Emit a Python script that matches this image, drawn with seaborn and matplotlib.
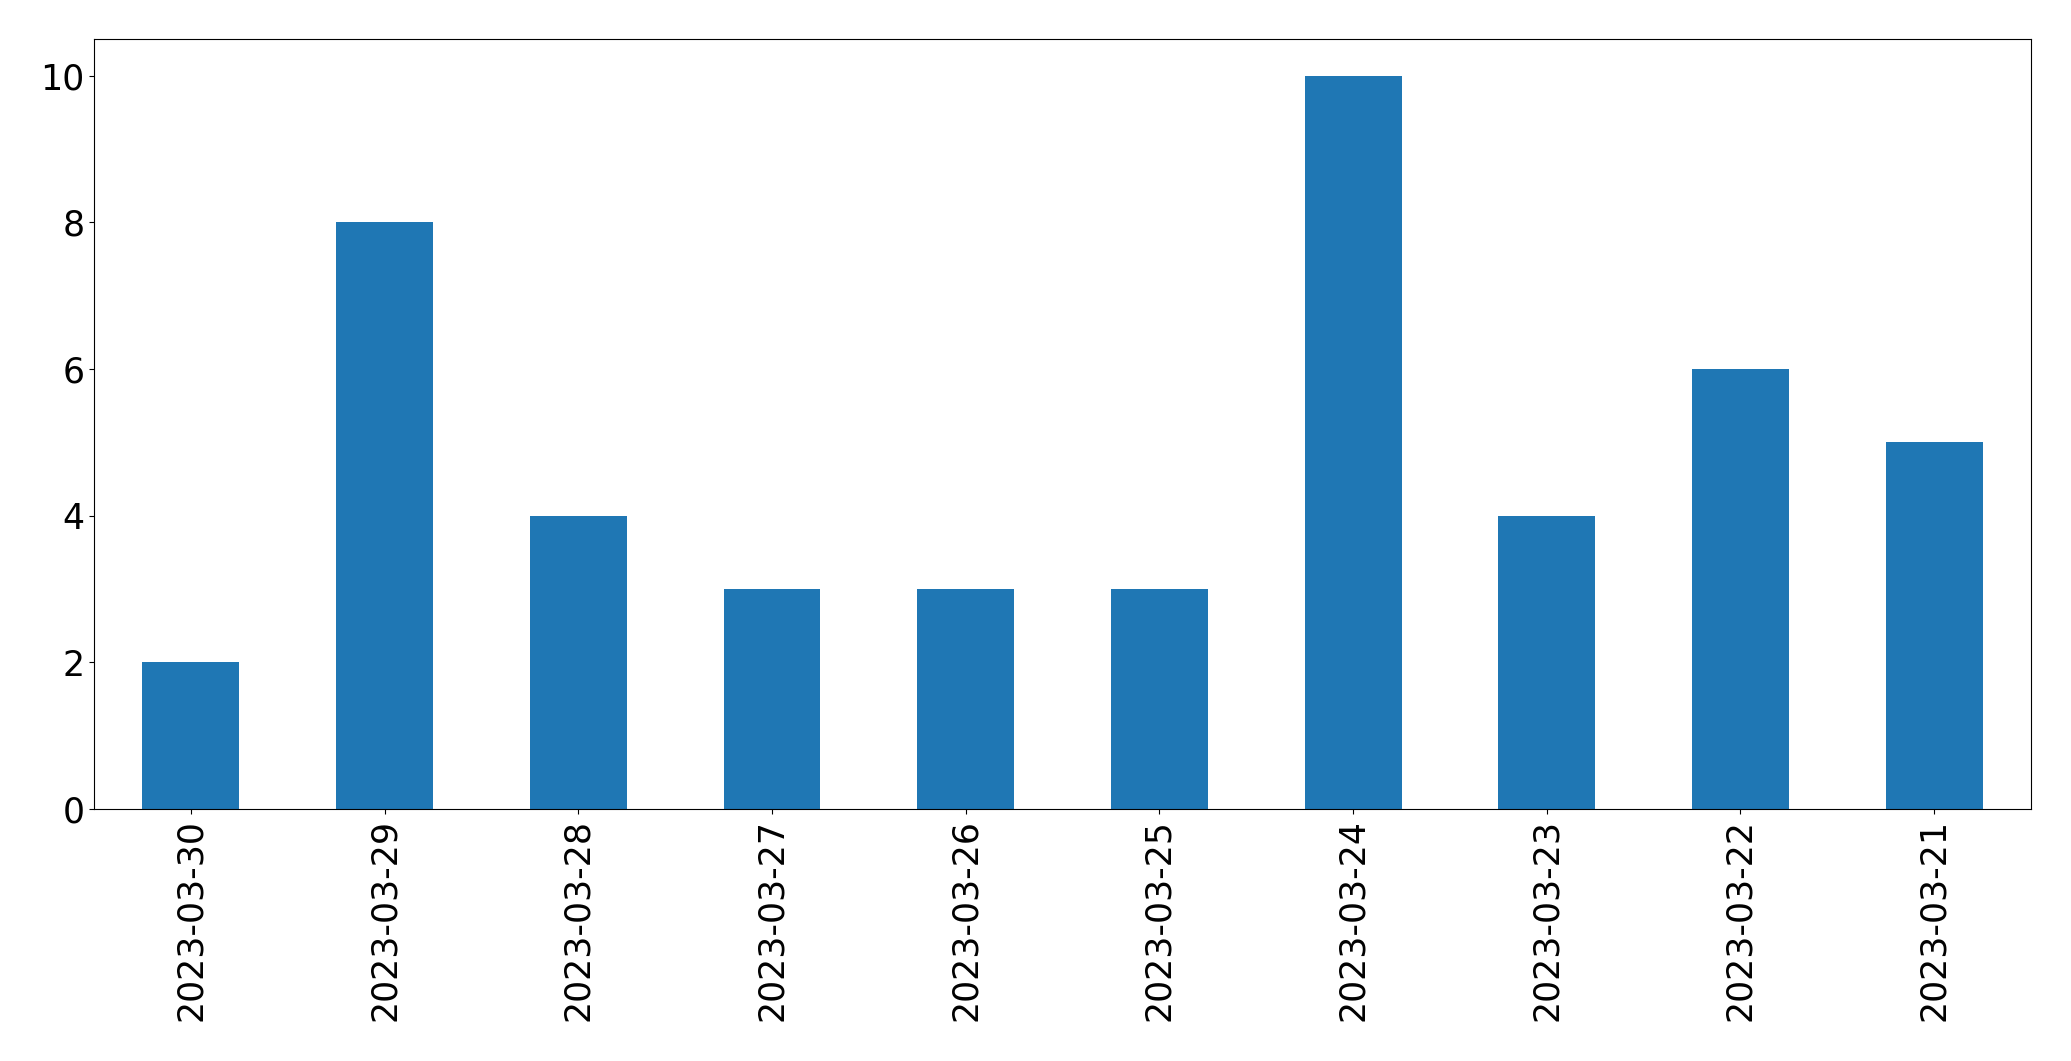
import pandas as pd
import matplotlib
matplotlib.use("Agg")
import matplotlib.pyplot as plt
import seaborn as sns

dates = ["2023-03-30", "2023-03-29", "2023-03-28", "2023-03-27", "2023-03-26",
         "2023-03-25", "2023-03-24", "2023-03-23", "2023-03-22", "2023-03-21"]
counts = [2, 8, 4, 3, 3, 3, 10, 4, 6, 5]

df = pd.DataFrame({"date": dates, "count": counts})

fig = plt.figure(figsize=(20.71, 10.61), dpi=100)
ax = fig.add_axes([0.0454, 0.2375, 0.9353, 0.7257])

sns.barplot(data=df, x="date", y="count", order=dates, color="#1f77b4",
            saturation=1, width=0.5, ax=ax)

ax.set_xlim(-0.5, len(dates) - 0.5)
ax.set_ylim(0, 10.5)
ax.set_xlabel("")
ax.set_ylabel("")
ax.tick_params(axis="both", labelsize=25)
plt.setp(ax.get_xticklabels(), rotation=90)

fig.savefig("out.png", dpi=100)
